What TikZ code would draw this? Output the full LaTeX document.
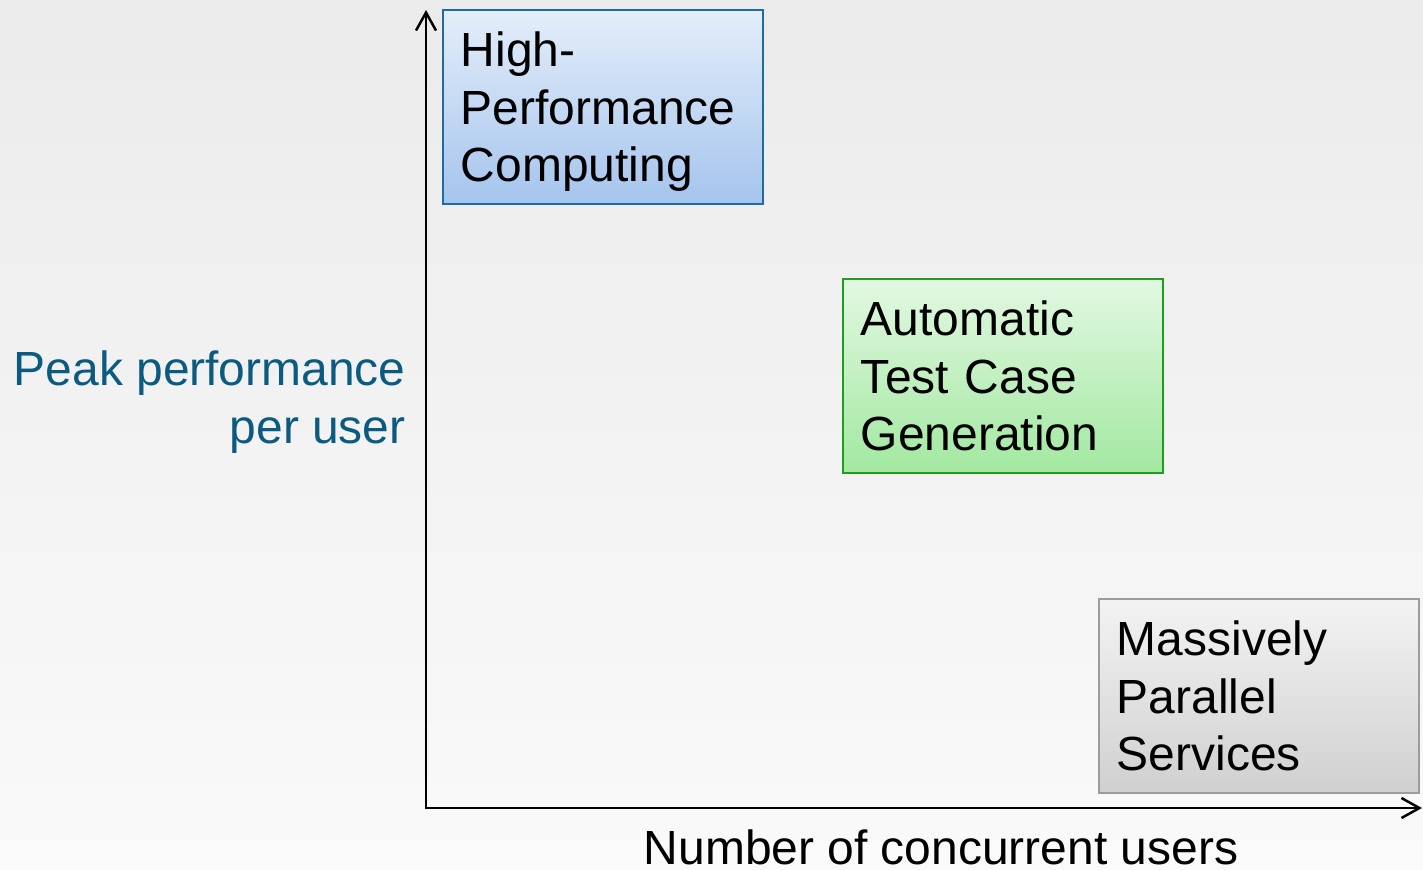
\documentclass[tikz,border=0pt]{standalone}
\usepackage{fontspec}
\setmainfont{Liberation Sans}
\usepackage{xcolor}
\usetikzlibrary{arrows.meta}

\definecolor{bgtop}{HTML}{EBEBEB}
\definecolor{bgbottom}{HTML}{FAFAFA}
\definecolor{hpctop}{HTML}{E4EEFA}
\definecolor{hpcbottom}{HTML}{A5C4ED}
\definecolor{hpcline}{HTML}{1F6CA3}
\definecolor{atcgtop}{HTML}{E2F8E2}
\definecolor{atcgbottom}{HTML}{A2E8A0}
\definecolor{atcgline}{HTML}{1E9E1E}
\definecolor{mpstop}{HTML}{F3F3F3}
\definecolor{mpsbottom}{HTML}{D0D0D0}
\definecolor{mpsline}{HTML}{9C9C9C}
\definecolor{ylabelcolor}{HTML}{0B5A80}

\begin{document}
\begin{tikzpicture}[x=0.02cm, y=-0.02cm, font=\fontsize{27.3}{32.7}\selectfont,
  area/.style={draw, line width=1.1pt, anchor=north west, align=left,
    minimum width=6.4cm, minimum height=3.88cm, text width=5.68cm,
    inner xsep=0.36cm, text height=0.7cm, text depth=2.3cm},
  axis/.style={line width=1.4pt, {Straight Barb[length=0.36cm,width=0.4cm]}-{Straight Barb[length=0.36cm,width=0.4cm]}}]
\shade[top color=bgtop, bottom color=bgbottom] (0,0) rectangle (1423,869);
\useasboundingbox (0,0) rectangle (1423,869);

\coordinate (ytop) at (426,10);
\coordinate (origin) at (426,808);
\coordinate (xend) at (1422,808);

\node[area, draw=hpcline, top color=hpctop, bottom color=hpcbottom] (hpc) at (442,9) {High-\\Performance\\Computing};
\node[area, draw=atcgline, top color=atcgtop, bottom color=atcgbottom] (atcg) at (842,278) {Automatic\\Test Case\\Generation};
\node[area, draw=mpsline, top color=mpstop, bottom color=mpsbottom] (mps) at (1098,598) {Massively\\Parallel\\Services};

\node[anchor=base east, align=right, inner sep=0pt, text=ylabelcolor] (ylabel) at (406,443) {Peak performance\\per user};
\node[anchor=base, inner sep=0pt] (xlabel) at (941,864) {Number of concurrent users};

\draw[axis] (ytop) -- (origin) -- (xend);
\end{tikzpicture}
\end{document}
